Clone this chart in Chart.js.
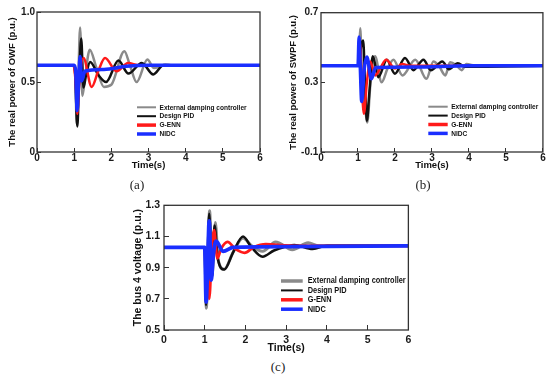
<!DOCTYPE html>
<html>
<head>
<meta charset="utf-8">
<script src="https://cdn.jsdelivr.net/npm/chart.js@4.4.1/dist/chart.umd.min.js"></script>
<style>
  html, body { margin: 0; padding: 0; background: #fff; }
  body { width: 550px; height: 378px; position: relative; overflow: hidden; }
  canvas { position: absolute; }
  .tag { position: absolute; transform: translate(-50%, -50%); font-family: "Liberation Serif", "DejaVu Serif", serif; font-size: 13px; color: #222; }
</style>
</head>
<body>
<canvas id="chart-a" width="270" height="172" style="left:0;top:0"></canvas>
<canvas id="chart-b" width="275" height="172" style="left:275px;top:0"></canvas>
<canvas id="chart-c" width="290" height="165" style="left:130px;top:190px"></canvas>
<div class="tag" style="left:137px;top:185px">(a)</div>
<div class="tag" style="left:423px;top:185px">(b)</div>
<div class="tag" style="left:278px;top:367px">(c)</div>

<script>
/* ---- data: [time (s), value (p.u.)] ---- */
const legendLabels = ['External damping controller', 'Design PID', 'G-ENN', 'NIDC'];

// (a) real power of OWF
const owfExternal = [[0,0.62],[1.0,0.62],[1.03,0.55],[1.07,0.2],[1.11,0.5],[1.16,0.89],[1.22,0.4],[1.3,0.55],[1.42,0.73],[1.6,0.6],[1.8,0.465],[2.0,0.48],[2.35,0.72],[2.5,0.62],[2.68,0.5],[2.97,0.66],[3.15,0.6],[3.3,0.61],[3.45,0.625],[3.6,0.62],[6,0.62]];
const owfPid      = [[0,0.62],[1.0,0.62],[1.03,0.55],[1.085,0.183],[1.13,0.5],[1.19,0.81],[1.25,0.46],[1.32,0.55],[1.43,0.643],[1.65,0.55],[1.86,0.5],[2.19,0.653],[2.46,0.56],[2.82,0.636],[3.13,0.554],[3.4,0.62],[6,0.62]];
const owfGenn     = [[0,0.62],[0.98,0.62],[1.02,0.56],[1.05,0.45],[1.08,0.272],[1.14,0.5],[1.25,0.671],[1.47,0.465],[1.65,0.58],[1.83,0.671],[2.14,0.577],[2.45,0.636],[2.75,0.62],[6,0.62]];
const owfNidc     = [[0,0.62],[1.0,0.62],[1.04,0.58],[1.08,0.296],[1.12,0.5],[1.16,0.683],[1.2,0.507],[1.29,0.577],[1.8,0.59],[2.4,0.612],[3.0,0.62],[6,0.62]];

// (b) real power of SWPF
const swpfExternal = [[0,0.395],[1.0,0.395],[1.03,0.45],[1.06,0.61],[1.1,0.4],[1.18,0.2],[1.25,0.07],[1.34,0.3],[1.46,0.45],[1.64,0.3],[1.8,0.38],[1.96,0.43],[2.2,0.34],[2.55,0.43],[2.85,0.32],[3.04,0.42],[3.2,0.39],[3.36,0.34],[3.49,0.415],[3.65,0.4],[3.8,0.37],[3.93,0.405],[4.2,0.395],[6,0.395]];
const swpfPid      = [[0,0.395],[1.04,0.395],[1.08,0.5],[1.14,0.54],[1.19,0.3],[1.24,0.08],[1.31,0.25],[1.4,0.45],[1.55,0.33],[1.78,0.43],[2.0,0.35],[2.27,0.44],[2.5,0.37],[2.77,0.43],[2.97,0.37],[3.28,0.42],[3.46,0.375],[3.7,0.41],[3.9,0.39],[6,0.395]];
const swpfGenn     = [[0,0.395],[1.02,0.395],[1.05,0.53],[1.1,0.3],[1.16,0.12],[1.24,0.3],[1.33,0.42],[1.47,0.34],[1.6,0.38],[1.76,0.43],[2.0,0.38],[2.2,0.405],[2.4,0.395],[6,0.395]];
const swpfNidc     = [[0,0.395],[1.0,0.395],[1.03,0.56],[1.06,0.4],[1.1,0.19],[1.17,0.38],[1.24,0.445],[1.36,0.32],[1.48,0.385],[2.5,0.388],[4,0.395],[6,0.395]];

// (c) bus 4 voltage
const busExternal = [[0,1.03],[1.0,1.03],[1.04,0.64],[1.08,1.0],[1.12,1.265],[1.18,0.85],[1.26,1.19],[1.33,0.95],[1.48,0.89],[1.7,1.0],[1.94,1.09],[2.15,1.04],[2.42,1.005],[2.74,1.065],[3.15,1.015],[3.54,1.06],[3.8,1.04],[6,1.04]];
const busPid      = [[0,1.03],[1.0,1.03],[1.03,0.66],[1.07,0.95],[1.11,1.245],[1.18,0.84],[1.24,1.17],[1.32,0.96],[1.48,0.888],[1.7,1.0],[1.94,1.1],[2.15,1.03],[2.42,0.97],[2.7,1.01],[3.0,1.035],[3.2,1.045],[3.65,1.02],[4.0,1.04],[6,1.04]];
const busGenn     = [[0,1.03],[1.0,1.03],[1.04,0.86],[1.07,0.95],[1.11,0.7],[1.18,1.05],[1.23,1.14],[1.31,0.96],[1.4,1.02],[1.56,1.065],[1.75,1.02],[1.98,0.995],[2.2,1.03],[2.5,1.05],[2.9,1.045],[3.2,1.04],[6,1.04]];
const busNidc     = [[0,1.03],[1.0,1.03],[1.035,0.68],[1.07,0.9],[1.11,1.2],[1.16,0.82],[1.21,0.98],[1.28,1.07],[1.45,1.005],[1.7,1.03],[3,1.035],[6,1.04]];

// axis ranges [min, max, step]
const timeRange = [0, 6, 1];
const owfRange  = [0, 1.0, 0.5];
const swpfRange = [-0.1, 0.7, 0.4];
const busRange  = [0.5, 1.3, 0.2];

/* ---- styling ---- */
const lineColors = ['#8a8a8a', '#111111', '#ff1a1a', '#1a2eff'];
const FONT = 'Arial, "Liberation Sans", sans-serif';

// box around the plot area
const framePlugin = {
  id: 'frame',
  afterDatasetsDraw(chart) {
    const { ctx, chartArea: a } = chart;
    ctx.save();
    ctx.strokeStyle = '#333';
    ctx.lineWidth = 1.3;
    ctx.strokeRect(a.left, a.top, a.right - a.left, a.bottom - a.top);
    ctx.restore();
  }
};

// legend drawn inside the plot, narrow bold text like the original
const panelLegend = {
  id: 'panelLegend',
  afterDraw(chart, args, o) {
    const { ctx } = chart;
    chart.data.datasets.forEach((ds, i) => {
      const y = o.y + i * o.rowH;
      ctx.save();
      ctx.strokeStyle = ds.borderColor;
      ctx.lineWidth = o.widths[i];
      ctx.beginPath();
      ctx.moveTo(o.x, y);
      ctx.lineTo(o.x + o.lineLen, y);
      ctx.stroke();
      ctx.translate(o.x + o.lineLen + o.gap, y);
      ctx.scale(0.82, 1);
      ctx.fillStyle = '#111';
      ctx.font = `bold ${o.size}px ${FONT}`;
      ctx.textBaseline = 'middle';
      ctx.fillText(ds.label, 0, 0);
      ctx.restore();
    });
  }
};

function makeDatasets(series, widths) {
  return series.map((pts, i) => ({
    label: legendLabels[i],
    data: pts.map(([x, y]) => ({ x, y })),
    borderColor: lineColors[i],
    borderWidth: widths[i],
    order: series.length - i,   // NIDC drawn on top
    pointRadius: 0,
    cubicInterpolationMode: 'monotone',
    fill: false
  }));
}

function makeChart(id, c) {
  const tickFont = { family: FONT, weight: 'bold', size: c.tickSize };
  const titleFont = { family: FONT, weight: 'bold', size: c.titleSize };
  return new Chart(document.getElementById(id), {
    type: 'line',
    data: { datasets: makeDatasets(c.series, c.widths) },
    options: {
      responsive: false,
      animation: false,
      events: [],
      layout: { padding: c.padding },
      plugins: {
        legend: { display: false },
        tooltip: { enabled: false },
        panelLegend: c.legend
      },
      scales: {
        x: {
          type: 'linear',
          min: timeRange[0], max: timeRange[1],
          ticks: { stepSize: timeRange[2], color: '#1a1a1a', font: tickFont, padding: c.xTickPad, maxRotation: 0, autoSkip: false },
          grid: { drawOnChartArea: false, tickLength: -c.tickLen, color: '#333' },
          border: { display: false },
          title: { display: true, text: 'Time(s)', color: '#111', font: titleFont, padding: { top: 0, bottom: c.xTitlePad } },
          afterFit: s => { s.height = c.xAxisH; }
        },
        y: {
          min: c.range[0], max: c.range[1],
          ticks: {
            stepSize: c.range[2], color: '#1a1a1a', font: tickFont, padding: c.yTickPad,
            callback: v => Math.abs(v) < 1e-9 ? '0' : v.toFixed(1)
          },
          grid: { drawOnChartArea: false, tickLength: -c.tickLen, color: '#333' },
          border: { display: false },
          title: { display: true, text: c.yTitle, color: '#111', font: titleFont, padding: { top: c.yTitlePad, bottom: 0 } },
          afterFit: s => { s.width = c.yAxisW; }
        }
      }
    },
    plugins: [framePlugin, panelLegend]
  });
}

makeChart('chart-a', {
  series: [owfExternal, owfPid, owfGenn, owfNidc],
  widths: [2.5, 2.5, 2.5, 3.5],
  range: owfRange,
  yTitle: 'The real power of OWF (p.u.)',
  padding: { top: 10, right: 10, left: 0, bottom: 0 },
  yAxisW: 37, xAxisH: 20,
  tickSize: 10, titleSize: 9.5, tickLen: 4,
  xTickPad: 4.3, yTickPad: 6, xTitlePad: 1.2, yTitlePad: 6.8,
  legend: { x: 137, y: 107.3, rowH: 8.9, lineLen: 19, gap: 3.5, size: 8, widths: [2, 2, 3.5, 3.5] }
});

makeChart('chart-b', {
  series: [swpfExternal, swpfPid, swpfGenn, swpfNidc],
  widths: [2.5, 2.5, 2.5, 3.5],
  range: swpfRange,
  yTitle: 'The real power of SWPF (p.u.)',
  padding: { top: 10, right: 6, left: 0, bottom: 0 },
  yAxisW: 46, xAxisH: 20,
  tickSize: 10, titleSize: 9.5, tickLen: 4,
  xTickPad: 4.3, yTickPad: 6.7, xTitlePad: 1.2, yTitlePad: 12.3,
  legend: { x: 153.3, y: 106.7, rowH: 8.9, lineLen: 19.4, gap: 3.5, size: 8, widths: [2, 2, 3.5, 3.5] }
});

makeChart('chart-c', {
  series: [busExternal, busPid, busGenn, busNidc],
  widths: [3, 2.5, 2.8, 3.8],
  range: busRange,
  yTitle: 'The bus 4 voltage (p.u.)',
  padding: { top: 9, right: 6, left: 0, bottom: 0 },
  yAxisW: 34, xAxisH: 25,
  tickSize: 10.5, titleSize: 10.5, tickLen: 5,
  xTickPad: 8.7, yTickPad: 9, xTitlePad: 0.7, yTitlePad: 2.3,
  legend: { x: 151, y: 91, rowH: 9.4, lineLen: 21.7, gap: 5, size: 9, widths: [3.5, 2, 3.5, 3.5] }
});
</script>
</body>
</html>
